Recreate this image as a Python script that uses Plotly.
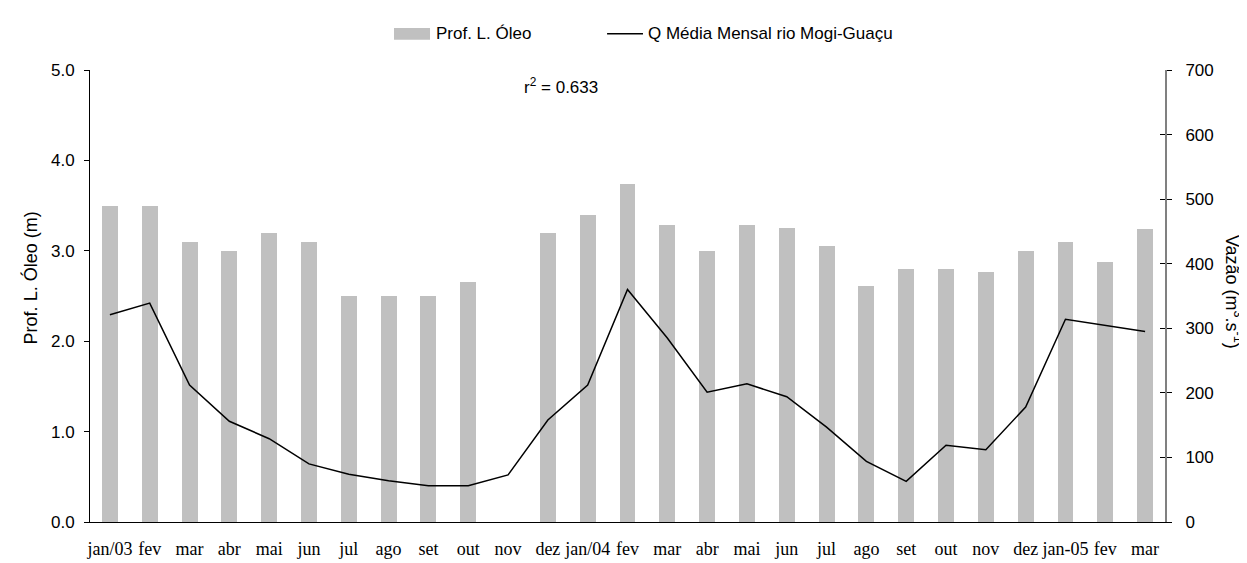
import plotly.graph_objects as go

months = ["jan/03", "fev", "mar", "abr", "mai", "jun", "jul", "ago", "set", "out", "nov", "dez",
          "jan/04", "fev", "mar", "abr", "mai", "jun", "jul", "ago", "set", "out", "nov", "dez",
          "jan-05", "fev", "mar"]
prof_oleo = [3.5, 3.5, 3.1, 3.0, 3.2, 3.1, 2.5, 2.5, 2.5, 2.65, None, 3.2,
             3.4, 3.74, 3.29, 3.0, 3.29, 3.25, 3.05, 2.61, 2.8, 2.8, 2.77, 3.0,
             3.1, 2.88, 3.24]
vazao = [321, 339, 212, 156, 129, 90, 74, 64, 56, 56, 73, 158,
         212, 360, 285, 201, 214, 194, 147, 94, 63, 119, 112, 178,
         314, 304, 295]
left_ticks = [0, 1, 2, 3, 4, 5]
right_ticks = [0, 100, 200, 300, 400, 500, 600, 700]

x = list(range(len(months)))
SANS = "Liberation Sans, Arial, sans-serif"
SERIF = "Liberation Serif, Times New Roman, serif"

fig = go.Figure()
fig.add_trace(go.Bar(x=x, y=prof_oleo, width=0.4, marker=dict(color="#C0C0C0", line=dict(width=0)),
                     name="Prof. L. Óleo", showlegend=False))
fig.add_trace(go.Scatter(x=x, y=vazao, yaxis="y2", mode="lines", line=dict(color="black", width=1.5),
                         name="Q Média Mensal rio Mogi-Guaçu", showlegend=False))
fig.add_trace(go.Scatter(x=x, y=vazao, yaxis="y3", mode="lines", line=dict(width=0), opacity=0,
                         hoverinfo="skip", showlegend=False))

fig.update_layout(
    width=1247, height=563,
    margin=dict(l=82, r=90, t=62, b=39, pad=0),
    paper_bgcolor="white", plot_bgcolor="white",
    font=dict(family=SANS, size=17, color="black"),
    bargap=0,
    xaxis=dict(range=[-0.5, len(months) - 0.5], tickvals=x, ticktext=months, ticks="",
               showline=True, linecolor="black", linewidth=1, showgrid=False, zeroline=False,
               tickfont=dict(family=SERIF, size=18), ticklabelstandoff=10),
    yaxis=dict(range=[0, 5], tickvals=left_ticks, tickformat=".1f", ticks="outside", ticklen=5,
               tickcolor="black", showline=True, linecolor="black", linewidth=1,
               showgrid=False, zeroline=False, tickfont=dict(size=17), ticklabelstandoff=6),
    yaxis2=dict(range=[0, 700], tickvals=right_ticks, overlaying="y", side="right", ticks="outside",
                ticklen=5, tickcolor="black", showline=True, linecolor="#808080", linewidth=2,
                showgrid=False, zeroline=False, tickfont=dict(size=17), ticklabelstandoff=10),
    yaxis3=dict(range=[0, 700], tickvals=right_ticks, overlaying="y", side="right", ticks="inside",
                ticklen=5, tickcolor="black", showline=False, showticklabels=False,
                showgrid=False, zeroline=False),
)

# legend (drawn manually to mimic the original wide swatches)
fig.add_shape(type="rect", xref="paper", yref="paper", x0=0.2828, x1=0.3163, y0=1.0671, y1=1.0931,
              fillcolor="#C0C0C0", line=dict(width=0))
fig.add_annotation(xref="paper", yref="paper", x=0.320, y=1.080, text="Prof. L. Óleo",
                   showarrow=False, xanchor="left", yanchor="middle", font=dict(size=17))
fig.add_shape(type="line", xref="paper", yref="paper", x0=0.481, x1=0.5144, y0=1.080, y1=1.080,
              line=dict(color="black", width=1.5))
fig.add_annotation(xref="paper", yref="paper", x=0.5175, y=1.080, text="Q Média Mensal rio Mogi-Guaçu",
                   showarrow=False, xanchor="left", yanchor="middle", font=dict(size=17))

fig.add_annotation(xref="paper", yref="paper", x=0.438, y=0.965, text="r<sup>2</sup> = 0.633",
                   showarrow=False, xanchor="center", yanchor="middle", font=dict(size=17))

fig.add_annotation(xref="paper", yref="paper", x=-0.0558, y=0.539, text="Prof. L. Óleo (m)",
                   textangle=-90, showarrow=False, xanchor="center", yanchor="middle", font=dict(size=18))
fig.add_annotation(xref="paper", yref="paper", x=1.0633, y=0.509, text="Vazão (m<sup>3</sup>.s<sup>-1</sup>)",
                   textangle=90, showarrow=False, xanchor="center", yanchor="middle", font=dict(size=18))

fig.write_html("out.html")
